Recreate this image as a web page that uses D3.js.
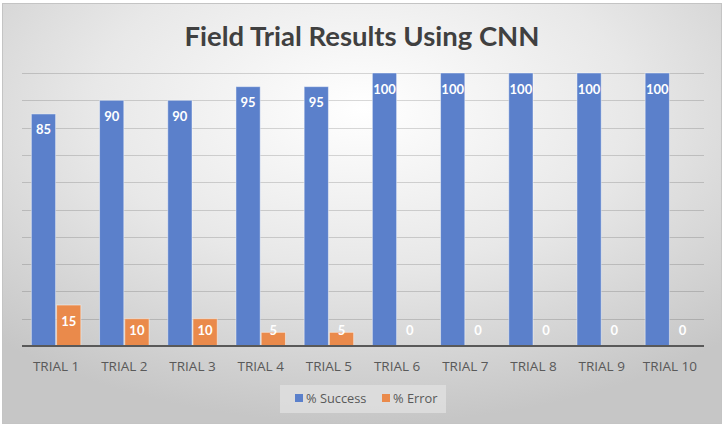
<!DOCTYPE html>
<html lang="en">
<head>
<meta charset="utf-8"/>
<script src="https://d3js.org/d3.v7.min.js"></script>
<style>
  body { margin: 0; background: #fff; }
  svg { display: block; }
</style>
</head>
<body>
<div id="chart"></div>
<script>
  // chart data
  const trials  = ["TRIAL 1", "TRIAL 2", "TRIAL 3", "TRIAL 4", "TRIAL 5",
                   "TRIAL 6", "TRIAL 7", "TRIAL 8", "TRIAL 9", "TRIAL 10"];
  const success = [85, 90, 90, 95, 95, 100, 100, 100, 100, 100];
  const error   = [15, 10, 10, 5, 5, 0, 0, 0, 0, 0];
  const seriesNames = ["% Success", "% Error"];
  const colors = ["#5b80cb", "#ea8a4b"];

  const W = 725, H = 428;
  const plot = {left: 22, right: 704, top: 73, bottom: 346};

  const svg = d3.select("#chart").append("svg")
    .attr("width", W).attr("height", H);

  // background gradient like the office chart style
  const defs = svg.append("defs");
  const grad = defs.append("radialGradient")
    .attr("id", "bg")
    .attr("cx", "50%").attr("cy", "25%").attr("r", "75%");
  grad.append("stop").attr("offset", "0%").attr("stop-color", "#ffffff");
  grad.append("stop").attr("offset", "50%").attr("stop-color", "#e8e8e8");
  grad.append("stop").attr("offset", "100%").attr("stop-color", "#c6c6c6");

  svg.append("rect")
    .attr("x", 2.5).attr("y", 3.5).attr("width", 719).attr("height", 420)
    .attr("fill", "url(#bg)")
    .attr("stroke", "#c4c4c4").attr("stroke-width", 1);

  // title
  svg.append("text")
    .attr("x", 362).attr("y", 46)
    .attr("text-anchor", "middle")
    .attr("font-family", "Lato, 'Open Sans', sans-serif")
    .attr("font-weight", "bold")
    .attr("font-size", 27.5)
    .attr("fill", "#404040")
    .text("Field Trial Results Using CNN");

  const x = d3.scaleBand()
    .domain(trials)
    .range([plot.left, plot.right])
    .paddingInner(0.26).paddingOuter(0.13);

  const xs = d3.scaleBand()
    .domain([0, 1])
    .range([0, x.bandwidth()])
    .padding(0);

  const y = d3.scaleLinear()
    .domain([0, 100])
    .range([plot.bottom, plot.top]);

  // gridlines (semi-transparent so they darken over the grey edges)
  svg.append("g")
    .selectAll("line")
    .data(d3.range(10, 101, 10))
    .join("line")
    .attr("x1", plot.left).attr("x2", plot.right)
    .attr("y1", d => Math.round(y(d)) + 0.5)
    .attr("y2", d => Math.round(y(d)) + 0.5)
    .attr("stroke", "#000").attr("stroke-opacity", 0.15).attr("stroke-width", 1);

  const series = [success, error];

  const groups = svg.append("g")
    .selectAll("g")
    .data(trials)
    .join("g")
    .attr("transform", d => `translate(${x(d)},0)`);

  groups.each(function(t, i) {
    const g = d3.select(this);
    series.forEach((vals, s) => {
      const v = vals[i];
      g.append("rect")
        .attr("x", xs(s) + 0.5)
        .attr("y", y(v))
        .attr("width", xs.bandwidth() - 1)
        .attr("height", plot.bottom - y(v))
        .attr("fill", colors[s])
        .attr("stroke", "#ffffff").attr("stroke-opacity", 0.45)
        .attr("stroke-width", 1);

      // label sits just inside the top of the bar
      const cy = Math.min(y(v) + 16, plot.bottom - 16);
      g.append("text")
        .attr("x", xs(s) + xs.bandwidth() / 2)
        .attr("y", cy + 4.5)
        .attr("text-anchor", "middle")
        .attr("font-family", "Lato, 'Open Sans', sans-serif")
        .attr("font-weight", "bold")
        .attr("font-size", 13)
        .attr("fill", "#ffffff")
        .text(v);
    });
  });

  // baseline + category labels
  const xAxis = svg.append("g")
    .attr("transform", `translate(0,${plot.bottom})`)
    .call(d3.axisBottom(x).tickSize(0).tickPadding(15));
  xAxis.select(".domain")
    .attr("stroke", "#595959").attr("stroke-width", 2)
    .attr("d", `M${plot.left},0H${plot.right}`);
  xAxis.selectAll("text")
    .attr("font-family", "'Open Sans', Lato, sans-serif")
    .attr("font-size", 13.5)
    .attr("fill", "#595959");

  // legend
  const legend = svg.append("g");
  legend.append("rect")
    .attr("x", 280).attr("y", 385).attr("width", 166).attr("height", 28)
    .attr("fill", "#e0e0e0").attr("opacity", 0.8);
  const items = [{x: 295, tx: 306}, {x: 382, tx: 393}];
  items.forEach((it, s) => {
    legend.append("rect")
      .attr("x", it.x).attr("y", 394).attr("width", 8).attr("height", 8)
      .attr("fill", colors[s]);
    legend.append("text")
      .attr("x", it.tx).attr("y", 403)
      .attr("font-family", "'Open Sans', Lato, sans-serif")
      .attr("font-size", 12.8)
      .attr("fill", "#595959")
      .text(seriesNames[s]);
  });
</script>
</body>
</html>
